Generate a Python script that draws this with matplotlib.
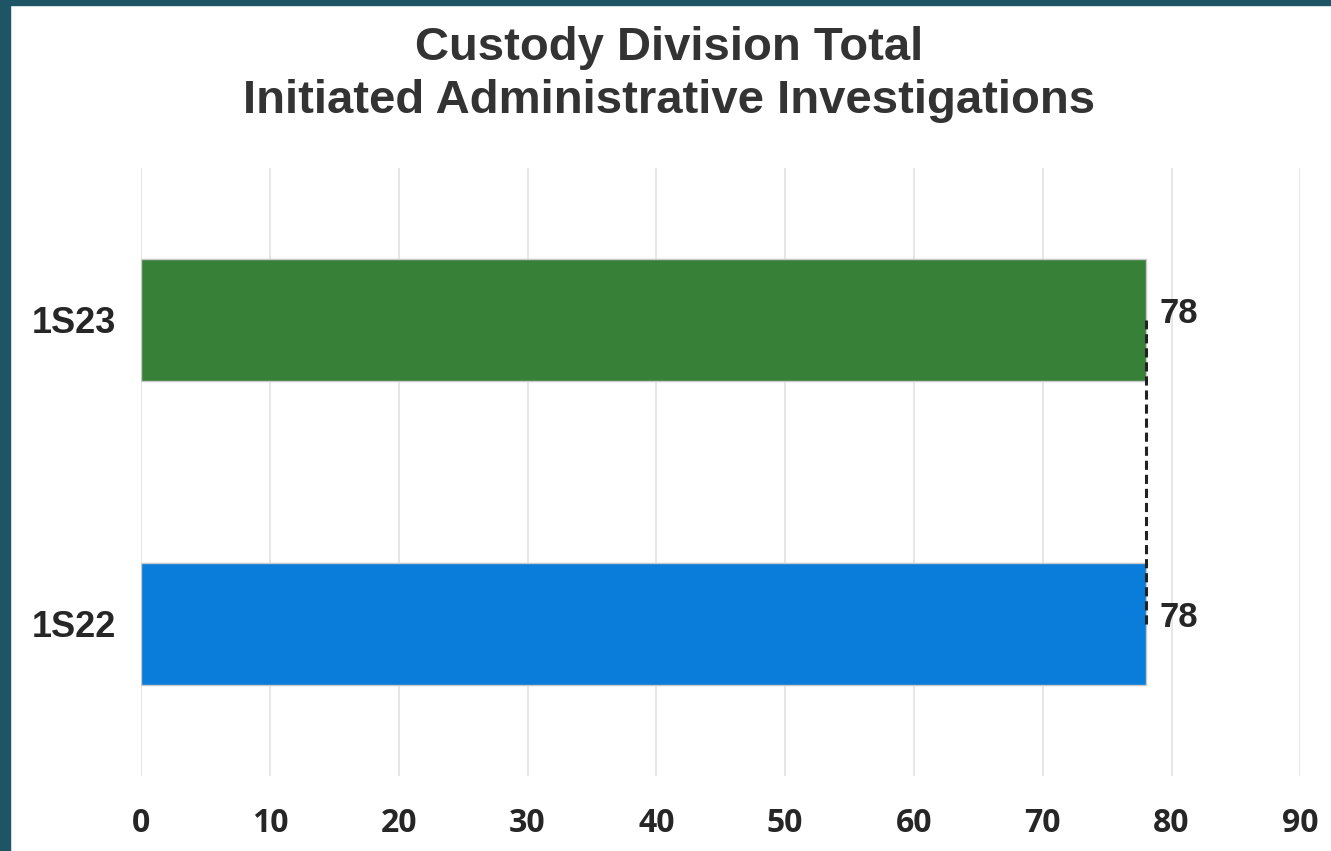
import matplotlib
matplotlib.use("Agg")
import matplotlib.pyplot as plt
from matplotlib.patches import Rectangle

periods = ["1S22", "1S23"]
totals = [78, 78]
bar_colors = ["#0a7cd9", "#378038"]
xticks = [0, 10, 20, 30, 40, 50, 60, 70, 80, 90]

fig = plt.figure(figsize=(13.31, 8.51), dpi=100)
fig.patch.set_facecolor("white")

# dark teal frame on left and top edges
border = "#1d5566"
fig.patches.append(Rectangle((0, 0), 0.0075, 1, transform=fig.transFigure,
                             color=border, zorder=10))
fig.patches.append(Rectangle((0, 0.994), 1, 0.006, transform=fig.transFigure,
                             color=border, zorder=10))

ax = fig.add_axes([0.106, 0.088, 0.871, 0.715])
ypos = list(range(len(periods)))
ax.barh(ypos, totals, height=0.4, color=bar_colors, zorder=3,
        edgecolor="#c8c8c8", linewidth=1.0)

# series line joining bar ends
ax.plot([totals[0], totals[1]], [ypos[0], ypos[1]], color="#222222",
        linestyle=(0, (3, 1.6)), linewidth=2.2, zorder=4)

for y, v in zip(ypos, totals):
    ax.text(v + 1.1, y + 0.02, f"{v}", va="center", ha="left",
            fontsize=25, fontweight="bold", color="#262626",
            family="Liberation Sans")

ax.set_xlim(0, 90)
ax.set_ylim(-0.5, 1.5)
ax.set_xticks(xticks)
ax.set_xticklabels([str(t) for t in xticks], fontsize=23, fontweight="bold",
                   color="#262626", family="Open Sans")
ax.set_yticks(ypos)
ax.set_yticklabels(periods, fontsize=26, fontweight="bold", color="#262626",
                   family="Liberation Sans")
ax.tick_params(axis="both", length=0)
ax.tick_params(axis="x", pad=22)
ax.tick_params(axis="y", pad=18)
ax.grid(axis="x", color="#e2e2e2", linewidth=1.2, zorder=0)
for s in ax.spines.values():
    s.set_visible(False)

fig.text(0.503, 0.944, "Custody Division Total", ha="center", va="center",
         fontsize=34, fontweight="bold", color="#333333", family="Liberation Sans")
fig.text(0.503, 0.881, "Initiated Administrative Investigations", ha="center",
         va="center", fontsize=34, fontweight="bold", color="#333333",
         family="Liberation Sans")

fig.savefig("out.png", dpi=100)
